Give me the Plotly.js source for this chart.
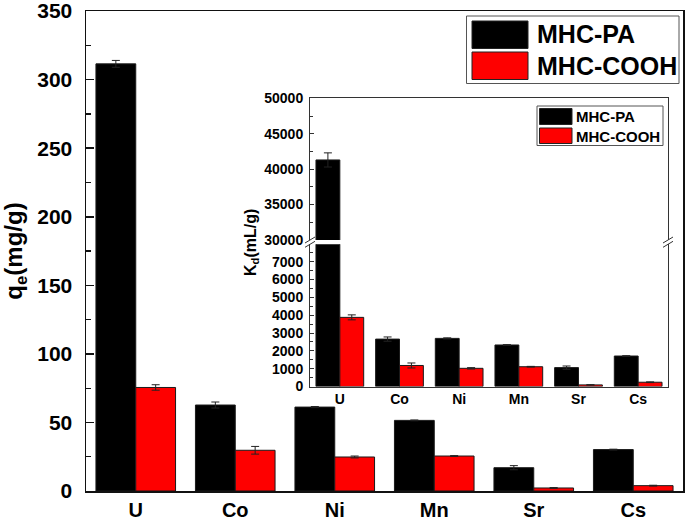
<!DOCTYPE html>
<html>
<head>
<meta charset="utf-8">
<script src="https://cdn.plot.ly/plotly-3.0.1.min.js"></script>
<style>html,body{margin:0;padding:0;background:#fff}#chart{width:685px;height:520px}</style>
</head>
<body>
<div id="chart"></div>
<script>
// ---- data ----
const categories = ['U', 'Co', 'Ni', 'Mn', 'Sr', 'Cs'];
const seriesNames = ['MHC-PA', 'MHC-COOH'];
// main chart: adsorption capacity qe (mg/g)
const qePA = [311.5, 62.7, 61.2, 51.5, 17.0, 30.2];
const qePAerr = [2.5, 2.2, 0.4, 0.3, 1.5, 0.3];
const qeCOOH = [75.5, 29.7, 24.8, 25.5, 2.2, 3.9];
const qeCOOHerr = [2.0, 2.8, 0.7, 0.3, 0.3, 0.3];
// inset: distribution coefficient Kd (mL/g)
const kdPA = [41300, 2660, 2700, 2330, 1060, 1710];
const kdPAerr = [1000, 120, 30, 20, 90, 20];
const kdCOOH = [3880, 1180, 1020, 1110, 90, 240];
const kdCOOHerr = [140, 140, 40, 20, 10, 20];
// tick values
const mainYTicks = [0, 50, 100, 150, 200, 250, 300, 350];
const insetLowTicks = [0, 1000, 2000, 3000, 4000, 5000, 6000, 7000];
const insetHighTicks = [30000, 35000, 40000, 45000, 50000];

// ---- styling / geometry ----
const W = 685, H = 520;
const M = {l: 86, r: 2, t: 11, b: 29};
const PW = W - M.l - M.r, PH = H - M.t - M.b;
const px = x => (x - M.l) / PW;
const py = y => (H - M.b - y) / PH;
const colors = ['#000000', '#fe0000'];
const FONT = 'Arial, "Liberation Sans", sans-serif';

function barTrace(name, ys, errs, i, xa, ya) {
  return {
    type: 'bar', name: name, x: categories, y: ys,
    xaxis: xa, yaxis: ya, showlegend: false,
    marker: {color: colors[i], line: {color: '#1a1a1a', width: 1}},
    error_y: {type: 'data', array: errs, visible: true, color: '#222', thickness: 1, width: 4},
    hoverinfo: 'x+y+name'
  };
}

const traces = [
  barTrace(seriesNames[0], qePA, qePAerr, 0, 'x', 'y'),
  barTrace(seriesNames[1], qeCOOH, qeCOOHerr, 1, 'x', 'y'),
  barTrace(seriesNames[0], kdPA, kdPAerr, 0, 'x2', 'y2'),
  barTrace(seriesNames[1], kdCOOH, kdCOOHerr, 1, 'x2', 'y2'),
  barTrace(seriesNames[0], kdPA, kdPAerr, 0, 'x3', 'y3'),
  barTrace(seriesNames[1], kdCOOH, kdCOOHerr, 1, 'x3', 'y3')
];

const insetX = [px(310), px(668)];
const insetLow = [py(386.5), py(244.3)];
const insetHigh = [py(240), py(98.3)];

const inLine = {color: '#333', width: 1};
const shapes = [];
// axis break marks on inset (left and right)
[310, 668].forEach(x => {
  [240, 244.3].forEach(y => {
    shapes.push({type: 'line', xref: 'paper', yref: 'paper',
      x0: px(x - 5), y0: py(y + 3), x1: px(x + 5), y1: py(y - 3), line: inLine});
  });
});
// main legend
shapes.push({type: 'rect', xref: 'paper', yref: 'paper', x0: px(466.5), x1: px(679), y0: py(16), y1: py(83.5),
  line: {color: '#555', width: 1}, fillcolor: '#fff'});
shapes.push({type: 'rect', xref: 'paper', yref: 'paper', x0: px(472), x1: px(528), y0: py(21), y1: py(48.5),
  line: {color: '#222', width: 1}, fillcolor: colors[0]});
shapes.push({type: 'rect', xref: 'paper', yref: 'paper', x0: px(472), x1: px(528), y0: py(52), y1: py(79.5),
  line: {color: '#222', width: 1}, fillcolor: colors[1]});
// inset legend
shapes.push({type: 'rect', xref: 'paper', yref: 'paper', x0: px(537), x1: px(663), y0: py(106), y1: py(145.5),
  line: {color: '#555', width: 1}, fillcolor: '#fff'});
shapes.push({type: 'rect', xref: 'paper', yref: 'paper', x0: px(539.5), x1: px(572), y0: py(108.5), y1: py(124.5),
  line: {color: '#222', width: 1}, fillcolor: colors[0]});
shapes.push({type: 'rect', xref: 'paper', yref: 'paper', x0: px(539.5), x1: px(572), y0: py(128), y1: py(143.5),
  line: {color: '#222', width: 1}, fillcolor: colors[1]});

const annotations = [
  {xref: 'paper', yref: 'paper', x: px(535), y: py(34), xanchor: 'left', yanchor: 'middle', showarrow: false,
    text: seriesNames[0], font: {family: FONT, size: 25, weight: 'bold', color: '#000'}},
  {xref: 'paper', yref: 'paper', x: px(535), y: py(66), xanchor: 'left', yanchor: 'middle', showarrow: false,
    text: seriesNames[1], font: {family: FONT, size: 25, weight: 'bold', color: '#000'}},
  {xref: 'paper', yref: 'paper', x: px(574), y: py(116.5), xanchor: 'left', yanchor: 'middle', showarrow: false,
    text: seriesNames[0], font: {family: FONT, size: 15, weight: 'bold', color: '#000'}},
  {xref: 'paper', yref: 'paper', x: px(574), y: py(136), xanchor: 'left', yanchor: 'middle', showarrow: false,
    text: seriesNames[1], font: {family: FONT, size: 15, weight: 'bold', color: '#000'}},
  {xref: 'paper', yref: 'paper', x: px(252), y: py(243), xanchor: 'center', yanchor: 'middle', showarrow: false,
    textangle: -90, text: 'K<sub>d</sub>(mL/g)', font: {family: FONT, size: 16, weight: 'bold', color: '#000'}}
];

const layout = {
  width: W, height: H,
  margin: M,
  paper_bgcolor: '#fff', plot_bgcolor: 'rgba(0,0,0,0)',
  font: {family: FONT, color: '#000'},
  barmode: 'group', bargap: 0.2, bargroupgap: 0,
  showlegend: false,
  xaxis: {
    domain: [0, 1], anchor: 'y', type: 'category', range: [-0.5, 5.5],
    showline: true, linecolor: '#111', linewidth: 1.5, mirror: true,
    ticks: '', showgrid: false, zeroline: false,
    tickfont: {family: FONT, size: 20, weight: 'bold', color: '#000'}, ticklabelstandoff: 0
  },
  yaxis: {
    domain: [0, 1], anchor: 'x', range: [0, 350.05], tickvals: mainYTicks,
    ticklabeloverflow: 'allow',
    showline: true, linecolor: '#111', linewidth: 1.5, mirror: true,
    ticks: 'inside', ticklen: 8, tickwidth: 1.5, tickcolor: '#111',
    minor: {dtick: 25, ticks: 'inside', ticklen: 5, tickwidth: 1.2, tickcolor: '#111', showgrid: false},
    showgrid: false, zeroline: false,
    tickfont: {family: FONT, size: 21, weight: 'bold', color: '#000'}, ticklabelstandoff: 8,
    title: {text: 'q<sub>e</sub>(mg/g)', font: {family: FONT, size: 24, weight: 'bold', color: '#000'}, standoff: 10}
  },
  xaxis2: {
    domain: insetX, anchor: 'y2', type: 'category', range: [-0.5, 5.5],
    showline: true, linecolor: '#333', linewidth: 1, mirror: false,
    ticks: '', showgrid: false, zeroline: false,
    tickfont: {family: FONT, size: 14, weight: 'bold', color: '#000'}, ticklabelstandoff: 0
  },
  yaxis2: {
    domain: insetLow, anchor: 'x2', range: [0, 7980], tickvals: insetLowTicks,
    tickformat: 'd',
    showline: true, linecolor: '#333', linewidth: 1, mirror: true,
    ticks: 'inside', ticklen: 4, tickcolor: '#333',
    minor: {dtick: 500, ticks: 'inside', ticklen: 2.5, tickcolor: '#333', showgrid: false},
    showgrid: false, zeroline: false,
    tickfont: {family: FONT, size: 14, weight: 'bold', color: '#000'}, ticklabelstandoff: 3
  },
  xaxis3: {
    domain: insetX, anchor: 'y3', type: 'category', range: [-0.5, 5.5], side: 'top',
    showline: true, linecolor: '#333', linewidth: 1, mirror: false,
    ticks: '', showticklabels: false, showgrid: false, zeroline: false
  },
  yaxis3: {
    domain: insetHigh, anchor: 'x3', range: [30000, 50000.5], tickvals: insetHighTicks,
    tickformat: 'd',
    showline: true, linecolor: '#333', linewidth: 1, mirror: true,
    ticks: 'inside', ticklen: 4, tickcolor: '#333',
    minor: {dtick: 2500, ticks: 'inside', ticklen: 2.5, tickcolor: '#333', showgrid: false},
    showgrid: false, zeroline: false,
    tickfont: {family: FONT, size: 14, weight: 'bold', color: '#000'}, ticklabelstandoff: 3
  },
  shapes: shapes,
  annotations: annotations
};

Plotly.newPlot('chart', traces, layout, {displayModeBar: false, staticPlot: true});
</script>
</body>
</html>
